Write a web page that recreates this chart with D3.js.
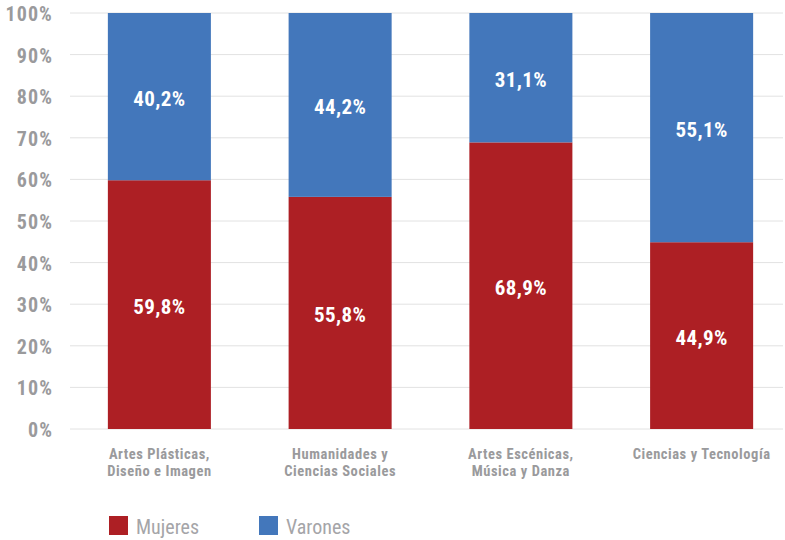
<!DOCTYPE html>
<html><head><meta charset="utf-8">
<script src="https://cdn.jsdelivr.net/npm/d3@7"></script>
<style>
body{margin:0;background:#fff;}
text{font-family:"Roboto Condensed","Liberation Sans Narrow","Arial Narrow",sans-serif;}
</style></head>
<body><svg id="c" width="785" height="540"></svg>
<script>
const categories = [["Artes Plásticas,","Diseño e Imagen"],["Humanidades y","Ciencias Sociales"],["Artes Escénicas,","Música y Danza"],["Ciencias y Tecnología"]];
const mujeres = [59.8, 55.8, 68.9, 44.9];
const varones = [40.2, 44.2, 31.1, 55.1];
const yTicks = [0,10,20,30,40,50,60,70,80,90,100];
const seriesNames = ["Mujeres","Varones"];
const colors = ["#AD1F24","#4377BB"];

const svg = d3.select("#c");
const x = d3.scaleBand().domain(d3.range(categories.length)).range([69,792]).paddingInner(0.43).paddingOuter(0.215);
const y = d3.scaleLinear().domain([0,100]).range([429,13]);
const fmt = v => v.toFixed(1).replace(".", ",") + "%";

// gridlines
svg.append("g").selectAll("line").data(yTicks).join("line")
  .attr("x1",70).attr("x2",783).attr("y1",d=>y(d)).attr("y2",d=>y(d))
  .attr("stroke","#e2e2e2").attr("stroke-width",1);
// y labels
svg.append("g").selectAll("text").data(yTicks).join("text")
  .attr("x",53).attr("y",d=>y(d)+8).attr("text-anchor","end")
  .attr("fill","#9a9a9c").attr("font-size",20).attr("font-weight","bold")
  .attr("letter-spacing",1.1)
  .text(d=>d+"%");

const stacked = d3.stack().keys([0,1])(categories.map((c,i)=>({0:mujeres[i],1:varones[i],i})));
stacked.forEach((s,si)=>{
  const g = svg.append("g");
  g.selectAll("rect").data(s).join("rect")
    .attr("x",(d,i)=>x(i)).attr("width",x.bandwidth())
    .attr("y",d=>y(d[1])).attr("height",d=>y(d[0])-y(d[1]))
    .attr("fill",colors[si]);
  g.selectAll("text").data(s).join("text")
    .attr("x",(d,i)=>x(i)+x.bandwidth()/2)
    .attr("y",d=>(y(d[0])+y(d[1]))/2+9.5)
    .attr("text-anchor","middle").attr("fill","#fff")
    .attr("font-size",21).attr("font-weight","bold").attr("letter-spacing",0.4)
    .text(d=>fmt(d[1]-d[0]));
});

// category labels
const cl = svg.append("g");
categories.forEach((lines,i)=>{
  const t = cl.append("text").attr("text-anchor","middle").attr("fill","#9a9a9c")
    .attr("font-size",14.5).attr("font-weight","bold").attr("letter-spacing",0.55);
  lines.forEach((ln,j)=>{
    t.append("tspan").attr("x",x(i)+x.bandwidth()/2).attr("y",459+j*16.5).text(ln);
  });
});

// legend
const legX = [109,259];
seriesNames.forEach((n,i)=>{
  svg.append("rect").attr("x",legX[i]).attr("y",516).attr("width",19).attr("height",19).attr("fill",colors[i]);
  svg.append("text").attr("x",legX[i]+27).attr("y",534).attr("fill","#a5a5a8")
    .attr("font-size",20).text(n);
});
</script></body></html>
